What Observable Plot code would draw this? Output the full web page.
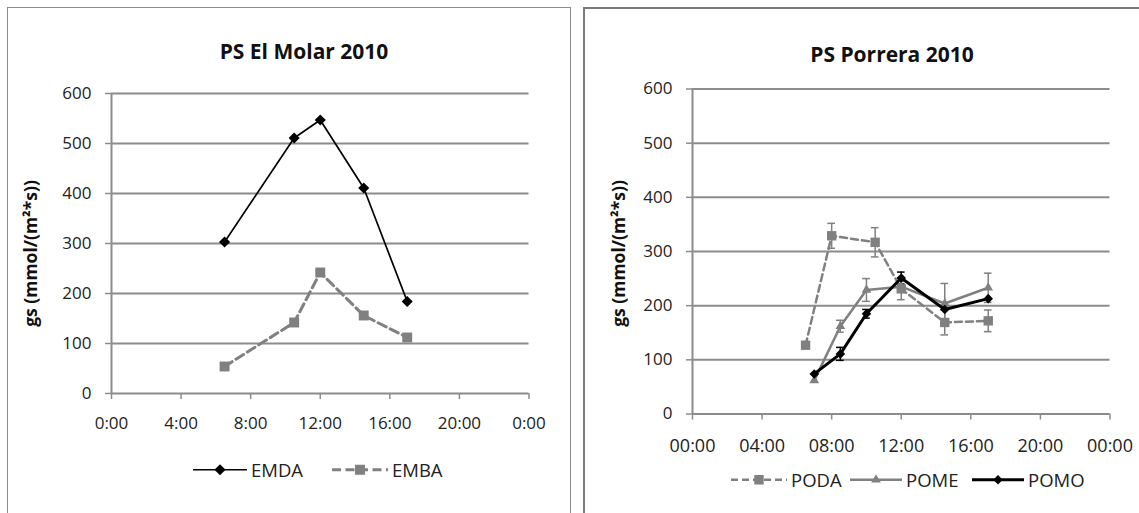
<!DOCTYPE html>
<html>
<head>
<meta charset="utf-8">
<script src="https://cdn.jsdelivr.net/npm/d3@7"></script>
<script src="https://cdn.jsdelivr.net/npm/@observablehq/plot@0.6"></script>
<style>
  body { margin: 0; background: #fff; width: 1139px; height: 513px; overflow: hidden; position: relative; font-family: "Open Sans", sans-serif; color: #222; }
  .panel { position: absolute; box-sizing: border-box; }
  #p1 { left: 7px; top: 7px; width: 564px; height: 530px; border: 1.5px solid #8c8c8c; }
  #p2 { left: 583px; top: 7px; width: 580px; height: 530px; border: 2px solid #7a7a7a; }
  .chart { position: absolute; top: 0; }
  .title { position: absolute; font-weight: bold; font-size: 21px; line-height: 1; transform: translateX(-50%); white-space: nowrap; color: #111; }
  .legend-item { position: absolute; display: flex; align-items: center; font-size: 18.5px; line-height: 1; white-space: nowrap; transform: translateY(-50%); }
  .legend-item svg { display: block; margin-right: 4px; }
</style>
</head>
<body>
<div class="panel" id="p1"></div>
<div class="panel" id="p2"></div>
<div class="chart" id="c1" style="left:0px;width:570px"></div>
<div class="chart" id="c2" style="left:584px;width:555px"></div>
<div class="title" style="left:304px;top:41px">PS El Molar 2010</div>
<div class="title" style="left:892px;top:44px">PS Porrera 2010</div>
<div id="legends"></div>
<script>
// El Molar: sampling times and stomatal conductance
const molarTimes = ["6:30", "10:30", "12:00", "14:30", "17:00"];
const emda = [303, 511, 547, 411, 184];
const emba = [54, 142, 242, 156, 112];

// Porrera: sampling times, means and error bars
const podaTimes = ["6:30", "8:00", "10:30", "12:00", "14:30", "17:00"];
const poda = [127, 329, 317, 231, 169, 172];
const podaErr = [0, 23, 27, 20, 23, 20];
const pomTimes = ["7:00", "8:30", "10:00", "12:00", "14:30", "17:00"];
const pome = [62, 162, 229, 235, 204, 233];
const pomeErr = [0, 11, 21, 10, 37, 27];
const pomo = [74, 111, 185, 251, 193, 213];
const pomoErr = [0, 12, 8, 11, 0, 0];

// Axis tick labels
const molarTickLabels = ["0:00", "4:00", "8:00", "12:00", "16:00", "20:00", "0:00"];
const porreraTickLabels = ["00:00", "04:00", "08:00", "12:00", "16:00", "20:00", "00:00"];
const yLabel = "gs (mmol/(m²*s))";

const GREY = "#808080";
const AXIS = "#8c8c8c";

const toHours = s => { const [h, m] = s.split(":").map(Number); return h + m / 60; };
const rows = (times, vals, errs) => times.map((t, i) => ({h: toHours(t), v: vals[i], e: errs ? errs[i] : 0}));

const emdaRows = rows(molarTimes, emda);
const embaRows = rows(molarTimes, emba);
const podaRows = rows(podaTimes, poda, podaErr);
const pomeRows = rows(pomTimes, pome, pomeErr);
const pomoRows = rows(pomTimes, pomo, pomoErr);

const CAP = 0.22; // half width of error-bar caps, in hours

function errorBars(data, stroke) {
  const d = data.filter(r => r.e > 0);
  return [
    Plot.ruleX(d, {x: "h", y1: r => r.v - r.e, y2: r => r.v + r.e, stroke, strokeWidth: 1.5}),
    Plot.ruleY(d, {y: r => r.v + r.e, x1: r => r.h - CAP, x2: r => r.h + CAP, stroke, strokeWidth: 1.5}),
    Plot.ruleY(d, {y: r => r.v - r.e, x1: r => r.h - CAP, x2: r => r.h + CAP, stroke, strokeWidth: 1.5})
  ];
}

function frame(opts, marks) {
  const {tickLabels, xPad, xFont, labelDx, labelDy, ...dims} = opts;
  return Plot.plot({
    ...dims,
    style: {background: "transparent", fontFamily: "'Open Sans', sans-serif", fontSize: "17px", color: "#222", overflow: "visible"},
    x: {domain: [0, 24]},
    y: {domain: [0, 600]},
    marks: [
      Plot.gridY(d3.range(100, 601, 100), {stroke: AXIS, strokeOpacity: 1, strokeWidth: 2}),
      Plot.ruleX([0], {stroke: AXIS, strokeWidth: 2}),
      Plot.ruleY([0], {stroke: AXIS, strokeWidth: 2}),
      Plot.axisY(d3.range(0, 601, 100), {tickSize: 6, tickPadding: 14, stroke: AXIS, strokeWidth: 1.5, label: null, fontSize: 17}),
      Plot.axisX(d3.range(0, 25, 4), {tickSize: 6, tickPadding: xPad, stroke: AXIS, strokeWidth: 1.5, label: null, fontSize: xFont, tickFormat: d => tickLabels[d / 4]}),
      Plot.text([yLabel], {frameAnchor: "left", textAnchor: "middle", rotate: -90, dx: labelDx, dy: labelDy, fontWeight: "bold", fontSize: 17.5, fill: "#111"}),
      ...marks
    ]
  });
}

const chart1 = frame(
  {width: 570, height: 450, marginLeft: 111, marginRight: 41.5, marginTop: 93, marginBottom: 57,
   tickLabels: molarTickLabels, xPad: 17, xFont: 17, labelDx: -80, labelDy: 10},
  [
    Plot.line(embaRows, {x: "h", y: "v", stroke: GREY, strokeWidth: 3, strokeDasharray: "9,4.5"}),
    Plot.dot(embaRows, {x: "h", y: "v", symbol: "square", fill: GREY, r: 5.6}),
    Plot.line(emdaRows, {x: "h", y: "v", stroke: "#000", strokeWidth: 1.7}),
    Plot.dot(emdaRows, {x: "h", y: "v", symbol: "diamond2", fill: "#000", r: 5})
  ]
);
document.getElementById("c1").append(chart1);

const chart2 = frame(
  {width: 555, height: 470, marginLeft: 108, marginRight: 29.5, marginTop: 88.5, marginBottom: 56.5,
   tickLabels: porreraTickLabels, xPad: 19, xFont: 18, labelDx: -73, labelDy: 2},
  [
    ...errorBars(podaRows, GREY),
    ...errorBars(pomeRows, GREY),
    ...errorBars(pomoRows, "#000"),
    Plot.line(podaRows, {x: "h", y: "v", stroke: GREY, strokeWidth: 2.5, strokeDasharray: "7,4"}),
    Plot.dot(podaRows, {x: "h", y: "v", symbol: "square", fill: GREY, r: 5.3}),
    Plot.line(pomeRows, {x: "h", y: "v", stroke: GREY, strokeWidth: 2.5}),
    Plot.dot(pomeRows, {x: "h", y: "v", symbol: "triangle", fill: GREY, r: 3.6}),
    Plot.line(pomoRows, {x: "h", y: "v", stroke: "#000", strokeWidth: 3}),
    Plot.dot(pomoRows, {x: "h", y: "v", symbol: "diamond2", fill: "#000", r: 4.3})
  ]
);
document.getElementById("c2").append(chart2);

// Legends: a line swatch with its marker, then the series name
const symbols = {diamond: d3.symbolDiamond2, square: d3.symbolSquare, triangle: d3.symbolTriangle};
const legendItems = [
  {name: "EMDA", left: 193, top: 470, w: 54, color: "#000", width: 1.7, dash: null, symbol: "diamond", r: 5},
  {name: "EMBA", left: 332, top: 470, w: 56, color: GREY, width: 3, dash: "9,4.5", symbol: "square", r: 5.6},
  {name: "PODA", left: 731, top: 480, w: 56, color: GREY, width: 2.5, dash: "7,4", symbol: "square", r: 5.3},
  {name: "POME", left: 850, top: 480, w: 52, color: GREY, width: 2.5, dash: null, symbol: "triangle", r: 3.6},
  {name: "POMO", left: 972, top: 480, w: 52, color: "#000", width: 3, dash: null, symbol: "diamond", r: 4.3}
];
const legends = d3.select("#legends");
for (const it of legendItems) {
  const item = legends.append("div").attr("class", "legend-item").style("left", it.left + "px").style("top", it.top + "px");
  const svg = item.append("svg").attr("width", it.w).attr("height", 16);
  svg.append("line").attr("x1", 0).attr("x2", it.w).attr("y1", 8).attr("y2", 8)
    .attr("stroke", it.color).attr("stroke-width", it.width).attr("stroke-dasharray", it.dash);
  svg.append("path").attr("transform", `translate(${it.w / 2},8)`)
    .attr("d", d3.symbol(symbols[it.symbol], Math.PI * it.r * it.r)()).attr("fill", it.color);
  item.append("span").text(it.name);
}
</script>
</body>
</html>
